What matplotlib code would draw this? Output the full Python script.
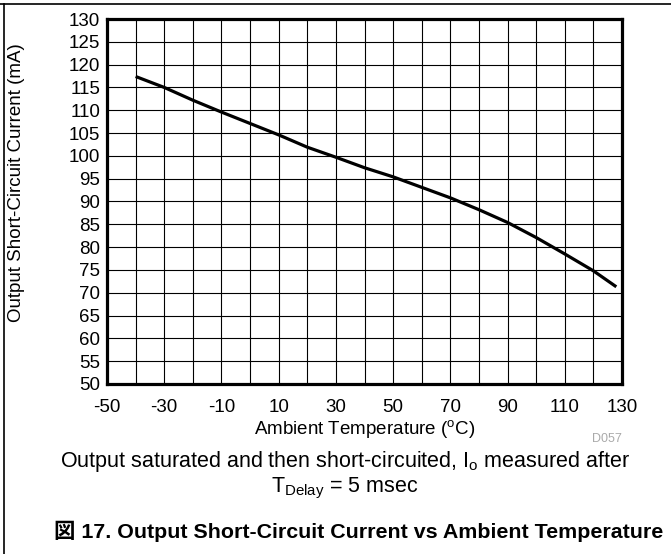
import matplotlib
matplotlib.use("Agg")
import matplotlib.pyplot as plt
from matplotlib.lines import Line2D

plt.rcParams['font.family'] = ['Liberation Sans', 'Noto Sans CJK JP']
plt.rcParams['mathtext.fontset'] = 'custom'
plt.rcParams['mathtext.rm'] = 'Liberation Sans'
plt.rcParams['mathtext.it'] = 'Liberation Sans:italic'
plt.rcParams['mathtext.bf'] = 'Liberation Sans:bold'
plt.rcParams['axes.unicode_minus'] = False

# curve (ambient temperature in degC, current in mA)
temps = [-40, -30, -20, -10, 0, 10, 20, 30, 40, 50, 60, 70, 80, 90, 100, 110, 120, 128]
current = [117.4, 115.0, 112.2, 109.6, 107.1, 104.6, 101.9, 99.7, 97.4, 95.4,
           93.1, 90.8, 88.2, 85.4, 82.1, 78.5, 74.8, 71.3]

x_ticks = list(range(-50, 131, 20))
x_grid = list(range(-50, 131, 10))
y_ticks = list(range(50, 131, 5))

fig = plt.figure(figsize=(6.71, 5.54), dpi=100)
ax = fig.add_axes([0.1595, 0.3069, 0.7675, 0.6588])

ax.plot(temps, current, color='black', lw=2.3, solid_capstyle='butt', zorder=3)

ax.set_xlim(-50, 130)
ax.set_ylim(50, 130)
ax.set_xticks(x_grid, minor=True)
ax.set_xticks(x_ticks)
ax.set_yticks(y_ticks)
ax.grid(True, which='both', color='black', lw=0.8)
ax.tick_params(which='both', length=0)
ax.tick_params(axis='x', pad=11, labelsize=13.5)
ax.tick_params(axis='y', pad=5, labelsize=13.5)
for s in ax.spines.values():
    s.set_linewidth(2.3)

ax.set_xlabel(r'Ambient Temperature ($^\mathrm{o}$C)', fontsize=13.5, va='baseline')
ax.xaxis.set_label_coords(0.5, -0.137)
ax.set_ylabel('Output Short-Circuit Current (mA)', fontsize=13.5, va='center')
ax.yaxis.set_label_coords(-0.176, 0.553)

fig.text(622 / 671, 1 - 442 / 554, 'D057', fontsize=9, color='#aaaaaa',
         ha='right', va='baseline')

# caption under the chart
fig.text(345 / 671, 1 - 467 / 554,
         r'Output saturated and then short-circuited, I$_\mathrm{o}$ measured after',
         fontsize=15.5, ha='center', va='baseline')
fig.text(345 / 671, 1 - 492 / 554, r'T$_\mathrm{Delay}$ = 5 msec',
         fontsize=15.5, ha='center', va='baseline')
fig.text(54 / 671, 1 - 538 / 554,
         '図 17. Output Short-Circuit Current vs Ambient Temperature',
         fontsize=15.4, fontweight='bold', ha='left', va='baseline')

# frame lines of the page
fig.add_artist(Line2D([0, 1], [1 - 3.5 / 554, 1 - 3.5 / 554], color='black', lw=1.2,
                      transform=fig.transFigure))
fig.add_artist(Line2D([3.5 / 671, 3.5 / 671], [0, 1 - 3.5 / 554], color='black', lw=1.2,
                      transform=fig.transFigure))

fig.savefig('out.png', dpi=100)
